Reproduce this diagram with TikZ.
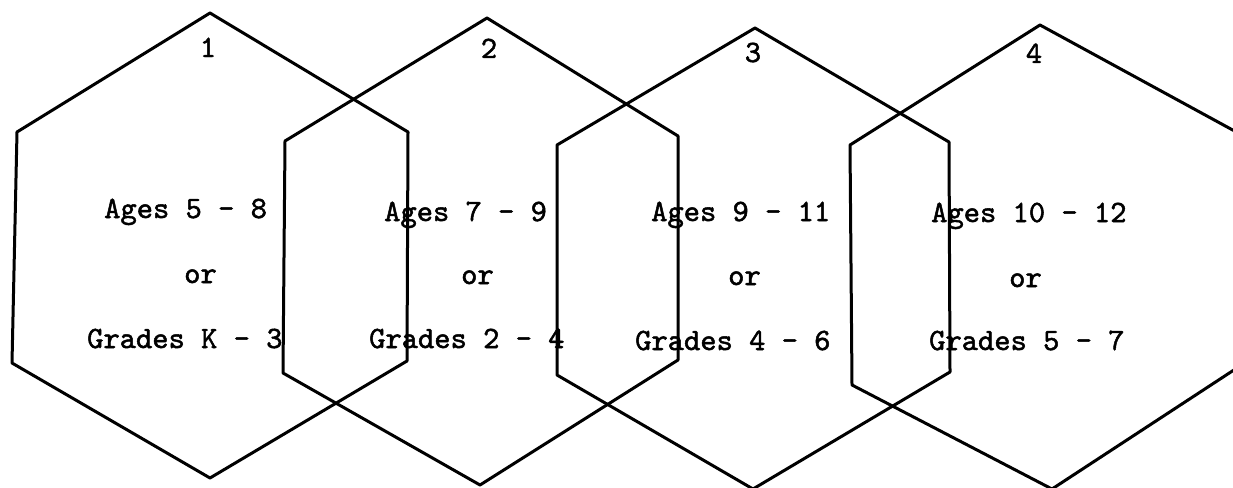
\documentclass[tikz,border=0pt]{standalone}
\usepackage{fontspec}
\newfontfamily\typew{lmmono10-regular.otf}[FakeBold=1.6]
\begin{document}
\begin{tikzpicture}[x=1pt,y=-1pt,
  hexline/.style={line width=3pt, line join=round, line cap=round},
  lbl/.style={font=\fontsize{31}{36}\selectfont\typew, anchor=base west, inner sep=0pt},
  num/.style={font=\fontsize{31}{36}\selectfont\typew, anchor=base, inner sep=0pt}]
\useasboundingbox (0,0) rectangle (1233,487);
\clip (0,0) rectangle (1233,487);
% hexagon 1
\draw[hexline] (210,13) -- (408,132) -- (407,361) -- (210,478) -- (12,363) -- (17,132) -- cycle;
% hexagon 2
\draw[hexline] (487,18) -- (678,136) -- (678,360) -- (480,485) -- (283,373) -- (285,141) -- cycle;
% hexagon 3
\draw[hexline] (755,28) -- (949,142) -- (950,372) -- (753,489) -- (557,375) -- (557,145) -- cycle;
% hexagon 4
\draw[hexline] (1040,25) -- (1240,134) -- (1240,366) -- (1052,489) -- (852,385) -- (850,145) -- cycle;
% numbers
\node[num] (n1) at (208,57) {1};
\node[num] (n2) at (489,58) {2};
\node[num] (n3) at (753,62) {3};
\node[num] (n4) at (1034,63) {4};
% texts
\node[lbl] (a1) at (104,218) {Ages 5 - 8};
\node[lbl] (o1) at (184,283) {or};
\node[lbl] (g1) at (87,348) {Grades K - 3};
\node[lbl] (a2) at (384,221) {Ages 7 - 9};
\node[lbl] (o2) at (461,284) {or};
\node[lbl] (g2) at (369,348) {Grades 2 - 4};
\node[lbl] (a3) at (651,221) {Ages 9 - 11};
\node[lbl] (o3) at (728,285) {or};
\node[lbl] (g3) at (635,350) {Grades 4 - 6};
\node[lbl] (a4) at (931,222) {Ages 10 - 12};
\node[lbl] (o4) at (1009,287) {or};
\node[lbl] (g4) at (929,350) {Grades 5 - 7};
\end{tikzpicture}
\end{document}
